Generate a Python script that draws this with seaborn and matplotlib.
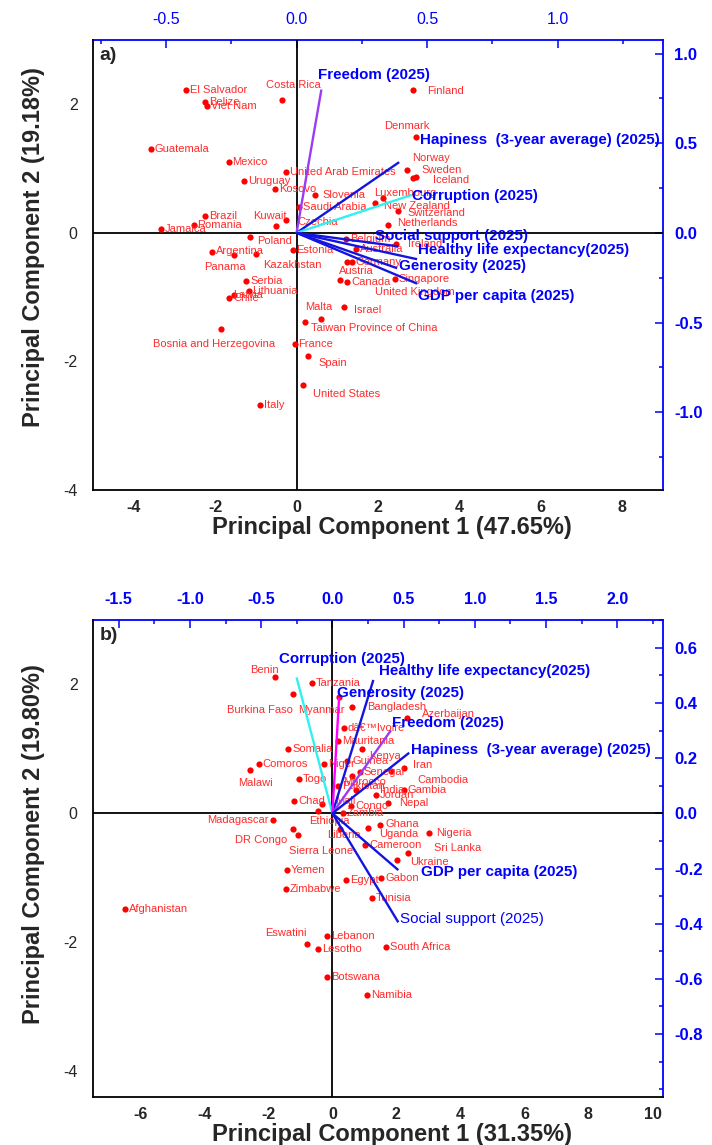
import numpy as np
import pandas as pd
import matplotlib
matplotlib.use("Agg")
import matplotlib.pyplot as plt
import seaborn as sns
from matplotlib.ticker import MultipleLocator, FixedLocator, FormatStrFormatter

sns.set_style("white")
plt.rcParams["font.family"] = ["Liberation Sans", "DejaVu Sans"]
plt.rcParams["axes.unicode_minus"] = False

# ---------------- Panel a data ----------------
countries_a = ["El Salvador", "Belize", "Viet Nam", "Costa Rica", "Guatemala", "Mexico",
               "United Arab Emirates", "Uruguay", "Kosovo", "Slovenia", "Saudi Arabia", "Brazil",
               "Czechia", "Kuwait", "Romania", "Jamaica", "Poland", "Argentina", "Panama",
               "Kazakhstan", "Estonia", "Serbia", "Lithuania", "Latvia", "Chile",
               "Bosnia and Herzegovina", "France", "Spain", "United States", "Malta",
               "Taiwan Province of China", "Israel", "Italy", "Finland", "Denmark", "Norway",
               "Sweden", "Iceland", "Luxembourg", "New Zealand", "Switzerland", "Netherlands",
               "Belgium", "Ireland", "Australia", "Austria", "Germany", "Canada", "Singapore",
               "United Kingdom"]
pc1_a = [-2.72, -2.25, -2.20, -0.35, -3.58, -1.67, -0.27, -1.29, -0.53, 0.45, 0.07, -2.25,
         -0.25, -0.51, -2.53, -3.33, -1.15, -2.08, -1.54, -0.99, -0.10, -1.24, -1.18, -1.54,
         -1.66, -1.86, -0.05, 0.27, 0.15, 0.21, 0.60, 1.17, -0.91, 2.87, 2.93, 2.71, 2.87,
         2.94, 2.12, 1.93, 2.48, 2.25, 1.22, 2.45, 1.45, 1.24, 1.35, 1.25, 2.41, 1.07]
pc2_a = [2.22, 2.03, 1.97, 2.06, 1.31, 1.10, 0.95, 0.81, 0.68, 0.59, 0.41, 0.26,
         0.20, 0.10, 0.13, 0.06, -0.07, -0.29, -0.34, -0.33, -0.26, -0.75, -0.90, -0.97,
         -1.02, -1.50, -1.73, -1.92, -2.36, -1.39, -1.34, -1.15, -2.68, 2.23, 1.49, 0.98,
         0.86, 0.87, 0.55, 0.47, 0.34, 0.13, -0.09, -0.18, -0.25, -0.46, -0.46, -0.76,
         -0.72, -0.73]

vectors_a = ["Freedom (2025)", "Hapiness  (3-year average) (2025)", "Corruption (2025)",
             "Social support (2025)", "Healthy life expectancy(2025)", "Generosity (2025)",
             "GDP per capita (2025)"]
load1_a = [0.61, 2.52, 2.83, 2.50, 2.96, 2.47, 2.96]
load2_a = [2.23, 1.10, 0.59, -0.21, -0.41, -0.55, -0.79]

# ---------------- Panel b data ----------------
countries_b = ["Benin", "Tanzania", "Burkina Faso", "Myanmar", "Bangladesh", "Azerbaijan",
               "dâ€™Ivoire", "Mauritania", "Somalia", "Kenya", "Comoros", "Malawi", "Niger",
               "Guinea", "Senegal", "Iran", "Cambodia", "Morocco", "Togo", "Pakistan", "India",
               "Gambia", "Jordan", "Nepal", "Chad", "Mali", "Congo", "Zambia", "Ethiopia",
               "Madagascar", "Ghana", "Uganda", "Liberia", "Nigeria", "DR Congo", "Sierra Leone",
               "Cameroon", "Sri Lanka", "Ukraine", "Gabon", "Egypt", "Yemen", "Zimbabwe",
               "Tunisia", "Afghanistan", "Eswatini", "Lebanon", "Lesotho", "South Africa",
               "Botswana", "Namibia"]
pc1_b = [-1.78, -0.65, -1.23, 0.21, 0.62, 2.32, 0.36, 0.19, -1.38, 0.91, -2.30, -2.58, -0.26,
         0.45, 0.86, 2.23, 1.83, 0.62, -1.05, 0.18, 0.73, 2.23, 1.36, 1.73, -1.20, -0.32,
         0.58, 0.33, -0.46, -1.85, 1.48, 1.12, 0.23, 3.02, -1.23, -1.08, 1.02, 2.37, 2.01,
         1.52, 0.44, -1.43, -1.45, 1.23, -6.48, -0.78, -0.18, -0.44, 1.69, -0.16, 1.08]
pc2_b = [2.12, 2.03, 1.85, 1.80, 1.65, 1.48, 1.33, 1.13, 1.00, 1.00, 0.76, 0.67, 0.77,
         0.81, 0.64, 0.70, 0.65, 0.58, 0.54, 0.43, 0.36, 0.36, 0.28, 0.16, 0.19, 0.14,
         0.11, 0.00, 0.03, -0.11, -0.18, -0.23, -0.25, -0.30, -0.24, -0.33, -0.49, -0.61,
         -0.72, -1.01, -1.03, -0.88, -1.17, -1.31, -1.49, -2.02, -1.90, -2.10, -2.08,
         -2.54, -2.82]

vectors_b = ["Corruption (2025)", "Healthy life expectancy(2025)", "Generosity (2025)",
             "Freedom (2025)", "Hapiness  (3-year average) (2025)", "GDP per capita (2025)",
             "Social support (2025)"]
load1_b = [-1.12, 1.28, 0.21, 1.83, 2.40, 2.06, 2.06]
load2_b = [2.11, 2.07, 1.80, 1.29, 0.94, -0.88, -1.69]

# secondary-axis tick values
top_ticks_a = [-0.5, 0.0, 0.5, 1.0]
right_ticks_a = [-1.0, -0.5, 0.0, 0.5, 1.0]
top_ticks_b = [-1.5, -1.0, -0.5, 0.0, 0.5, 1.0, 1.5, 2.0]
right_ticks_b = [-0.8, -0.6, -0.4, -0.2, 0.0, 0.2, 0.4, 0.6]

# ---------------- styling (positions / colours) ----------------
RED = "#ff0000"
LABEL_RED = "#ff2b2b"
BLUE = "#0000ff"
VEC_BLUE = "#1414e0"
CYAN = "#33f0f0"
PURPLE = "#9b3cf5"
MAGENTA = "#ff00ff"

vec_colors_a = [PURPLE, VEC_BLUE, CYAN, VEC_BLUE, VEC_BLUE, VEC_BLUE, VEC_BLUE]
vec_colors_b = [CYAN, VEC_BLUE, MAGENTA, PURPLE, VEC_BLUE, VEC_BLUE, VEC_BLUE]
vec_bold_b = [True, True, True, True, True, True, False]
vec_off_a = [(-3, 15), (21, 22), (0, -1), (-23, 10), (1, 9), (2, 2), (1, -12)]
vec_off_b = [(-18, 18), (6, 9), (-2, 4), (1, 7), (2, 3), (23, -2), (2, 3)]

# label offsets in pixels: (dx, dy, ha)
off_a = {"Costa Rica": (11, 15, "center"), "Slovenia": (8, 0, "left"),
         "Kuwait": (-6, 10, "center"), "Czechia": (11, -2, "left"),
         "Poland": (7, -4, "left"), "Panama": (-9, -12, "center"),
         "Kazakhstan": (7, -11, "left"), "Latvia": (-1, 0, "left"),
         "Bosnia and Herzegovina": (-7, -15, "center"), "Spain": (11, -7, "left"),
         "United States": (10, -9, "left"), "Malta": (14, 15, "center"),
         "Taiwan Province of China": (-10, -9, "left"), "Israel": (10, -3, "left"),
         "Finland": (14, -2, "left"), "Denmark": (-9, 11, "center"),
         "Norway": (5, 12, "left"), "Sweden": (8, 8, "left"), "Iceland": (17, -3, "left"),
         "Luxembourg": (-9, 5, "left"), "New Zealand": (9, -3, "left"),
         "Switzerland": (10, -2, "left"), "Netherlands": (9, 1, "left"),
         "Ireland": (12, 0, "left"), "Austria": (-8, -9, "left"),
         "United Kingdom": (35, -12, "left")}
off_b = {"Benin": (3, 7, "right"), "Burkina Faso": (0, -16, "right"),
         "Myanmar": (6, -13, "right"), "Bangladesh": (15, 0, "left"),
         "Azerbaijan": (15, 4, "left"), "Kenya": (8, -7, "left"),
         "Malawi": (6, -13, "center"), "Guinea": (6, 0, "left"), "Iran": (9, 3, "left"),
         "Cambodia": (26, -9, "left"), "Morocco": (-9, -6, "left"),
         "India": (24, 0, "left"), "Nepal": (11, 0, "left"), "Mali": (13, 3, "left"),
         "Ethiopia": (12, -10, "center"), "Madagascar": (-5, 0, "right"),
         "Ghana": (6, 1, "left"), "Uganda": (11, -6, "left"),
         "Liberia": (4, -6, "center"), "Nigeria": (7, 0, "left"),
         "DR Congo": (-6, -11, "right"), "Sierra Leone": (-9, -16, "left"),
         "Sri Lanka": (26, 5, "left"), "Ukraine": (13, -2, "left"),
         "Eswatini": (-22, 11, "center")}

fig = plt.figure(figsize=(7.12, 11.45), dpi=100)
W, H = 712.0, 1145.0
ax_a = fig.add_axes([93 / W, 1 - 490 / H, 570 / W, 450 / H])
ax_b = fig.add_axes([93 / W, 1 - 1097 / H, 570 / W, 477 / H])


def minor_between(ticks, lo, hi):
    step = (ticks[1] - ticks[0]) / 2.0
    vals = []
    v = ticks[0] - step * 4
    while v <= ticks[-1] + step * 4:
        if lo <= v <= hi and all(abs(v - t) > 1e-9 for t in ticks):
            vals.append(round(v, 6))
        v += step
    return vals


def draw_panel(ax, names, x, y, offs, vnames, vx, vy, vcols, voffs, vbold,
               xlim, ylim, kx, ky, top_ticks, right_ticks,
               top_bold, xlabel, ylabel, tag, ylabel_pos):
    df = pd.DataFrame({"PC1": x, "PC2": y, "name": names})
    ax.axhline(0, color="black", lw=1.3, zorder=1)
    ax.axvline(0, color="black", lw=1.3, zorder=1)
    sns.scatterplot(data=df, x="PC1", y="PC2", color=RED, s=20, linewidth=0,
                    ax=ax, zorder=3, legend=False)
    for n, xi, yi in zip(names, x, y):
        dx, dy, ha = offs.get(n, (4, 0, "left"))
        ax.annotate(n, (xi, yi), xytext=(dx, dy), textcoords="offset pixels",
                    ha=ha, va="center", fontsize=8.0, color=LABEL_RED, zorder=4)
    for n, ex, ey, c, (dx, dy), b in zip(vnames, vx, vy, vcols, voffs, vbold):
        ax.plot([0, ex], [0, ey], color=c, lw=1.7, zorder=5, solid_capstyle="butt")
        ax.annotate(n, (ex, ey), xytext=(dx, dy), textcoords="offset pixels",
                    ha="left", va="center", fontsize=10.9,
                    fontweight="bold" if b else "normal", color=BLUE, zorder=6)
    ax.set_xlim(xlim)
    ax.set_ylim(ylim)
    ax.xaxis.set_major_locator(MultipleLocator(2))
    ax.xaxis.set_minor_locator(MultipleLocator(1))
    ax.yaxis.set_major_locator(MultipleLocator(2))
    ax.yaxis.set_minor_locator(MultipleLocator(1))
    ax.tick_params(axis="both", which="both", direction="out", color="black",
                   width=1.1, labelsize=11.5, top=False, right=False)
    ax.tick_params(which="major", length=6)
    ax.tick_params(which="minor", length=3)
    ax.tick_params(axis="x", pad=1)
    ax.tick_params(axis="y", pad=5)
    for lab in ax.get_xticklabels():
        lab.set_fontweight("bold")
    for side in ["left", "bottom"]:
        ax.spines[side].set_color("black")
        ax.spines[side].set_linewidth(1.3)
    ax.spines["top"].set_visible(False)
    ax.spines["right"].set_visible(False)
    ax.set_xlabel(xlabel, fontsize=17, fontweight="bold", labelpad=1)
    ax.set_ylabel(ylabel, fontsize=17, fontweight="bold", labelpad=13)
    ax.xaxis.label.set_x(0.525)
    ax.yaxis.label.set_y(ylabel_pos)
    ax.text(0.012, 0.985, tag, transform=ax.transAxes, ha="left", va="top",
            fontsize=14, fontweight="bold")

    x0, x1 = xlim[0] / kx, xlim[1] / kx
    y0, y1 = ylim[0] / ky, ylim[1] / ky

    sx = ax.secondary_xaxis("top", functions=(lambda v: v / kx, lambda v: v * kx))
    sx.xaxis.set_major_locator(FixedLocator(top_ticks))
    sx.xaxis.set_minor_locator(FixedLocator(minor_between(top_ticks, x0, x1)))
    sx.xaxis.set_major_formatter(FormatStrFormatter("%.1f"))
    sx.tick_params(which="both", direction="in", color=BLUE, labelcolor=BLUE,
                   width=1.1, labelsize=11.5)
    sx.tick_params(which="major", length=6, pad=9)
    sx.tick_params(which="minor", length=3)
    sx.spines["top"].set_color(BLUE)
    sx.spines["top"].set_linewidth(1.3)
    if top_bold:
        for lab in sx.get_xticklabels():
            lab.set_fontweight("bold")

    sy = ax.secondary_yaxis("right", functions=(lambda v: v / ky, lambda v: v * ky))
    sy.yaxis.set_major_locator(FixedLocator(right_ticks))
    sy.yaxis.set_minor_locator(FixedLocator(minor_between(right_ticks, y0, y1)))
    sy.yaxis.set_major_formatter(FormatStrFormatter("%.1f"))
    sy.tick_params(which="both", direction="in", color=BLUE, labelcolor=BLUE,
                   width=1.1, labelsize=12)
    sy.tick_params(which="major", length=6, pad=8)
    sy.tick_params(which="minor", length=3)
    sy.spines["right"].set_color(BLUE)
    sy.spines["right"].set_linewidth(1.3)
    for lab in sy.get_yticklabels():
        lab.set_fontweight("bold")
    return sx, sy


draw_panel(ax_a, countries_a, pc1_a, pc2_a, off_a, vectors_a, load1_a, load2_a,
           vec_colors_a, vec_off_a, [True] * 7,
           (-5, 9), (-4, 3), 6.415, 2.79, top_ticks_a, right_ticks_a, False,
           "Principal Component 1 (47.65%)", "Principal Component 2 (19.18%)", "a)", 0.54)

draw_panel(ax_b, countries_b, pc1_b, pc2_b, off_b, vectors_b, load1_b, load2_b,
           vec_colors_b, vec_off_b, vec_bold_b,
           (-7.48, 10.33), (-4.40, 3), 4.45, 4.28, top_ticks_b, right_ticks_b, True,
           "Principal Component 1 (31.35%)", "Principal Component 2 (19.80%)", "b)", 0.53)

fig.savefig("out.png", dpi=100)
